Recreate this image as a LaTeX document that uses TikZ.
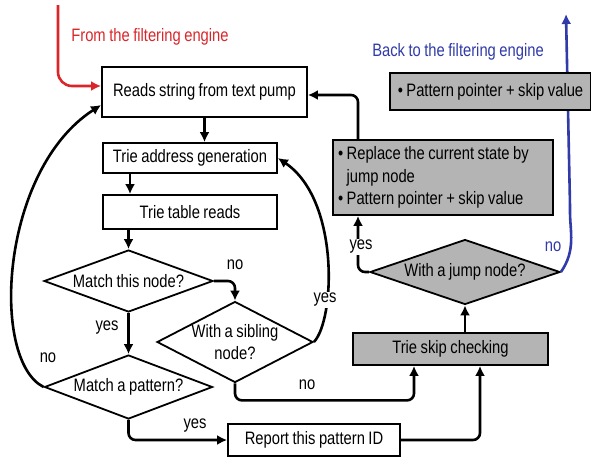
\documentclass[tikz,border=0pt]{standalone}
\usepackage{fontspec}
\setmainfont{Liberation Sans}[FakeStretch=0.82, WordSpace=0.85]
\usetikzlibrary{shapes.geometric}
\usetikzlibrary{arrows.meta}
\definecolor{boxgray}{RGB}{180,180,180}
\definecolor{inred}{RGB}{218,38,42}
\definecolor{outblue}{RGB}{48,58,168}
\tikzset{
 box/.style={draw, line width=1.8pt, fill=white, inner sep=0pt},
 graybox/.style={box, fill=boxgray},
 decide/.style={diamond, draw, line width=1.8pt, fill=white, inner sep=0pt},
 flow/.style={line width=2.6pt, rounded corners=7pt, -{Latex[length=10pt,width=10pt]}},
 tag/.style={inner sep=1pt},
}

\begin{document}
\begin{tikzpicture}[x=1pt, y=-1pt, font=\fontsize{18}{22.5}\selectfont]
    \useasboundingbox (0,0) rectangle (591,458);
    \node[box, minimum width=205pt, minimum height=50pt] (reads) at (204.5,92) {Reads string from text pump};
    \node[box, minimum width=174pt, minimum height=30pt] (addr) at (190,158) {Trie address generation};
    \node[box, minimum width=174pt, minimum height=34pt] (table) at (190,212) {Trie table reads};
    \node[decide, minimum width=169pt, minimum height=62pt, label=center:{Match this node?}] (mnode) at (128.5,281) {};
    \node[decide, minimum width=156pt, minimum height=81pt, label={[align=center]center:{With a sibling\\node?}}] (sib) at (235,342) {};
    \node[decide, minimum width=168pt, minimum height=64pt, label=center:{Match a pattern?}] (mpat) at (128.5,387) {};
    \node[box, minimum width=172pt, minimum height=32pt] (report) at (314,440) {Report this pattern ID};
    \node[graybox, minimum width=195pt, minimum height=32pt] (skip) at (450.5,349) {Trie skip checking};
    \node[decide, fill=boxgray, minimum width=190pt, minimum height=65pt, label=center:{With a jump node?}] (jump) at (465,272) {};
    \node[graybox, inner xsep=5pt, text width=210pt, minimum height=75pt, align=flush left] (replace) at (443,177.5)
        {\textbullet\ Replace the current state by\\\phantom{\textbullet\ }jump node\\\textbullet\ Pattern pointer + skip value};

    \coordinate (instart) at (58,5);
    \coordinate (backtop) at (566,14);
    \draw[flow, inred, rounded corners=14pt] (instart) |- ([yshift=6pt]reads.west);
    \node[inred] at (150,37) {From the filtering engine};
    \draw[flow, outblue] (jump.east) to[out=55, in=-90] (570,205) -- (backtop);
    \node[outblue] at (458,52) {Back to the filtering engine};
    \node[outblue, tag] at (553,247) {no};
    \node[graybox, minimum width=201pt, minimum height=37pt, align=left] (pointer) at (490.5,91.5)
        {\textbullet\ Pattern pointer + skip value};

    \draw[flow] (reads.south) -- (reads.south |- addr.north);
    \draw[flow] ([xshift=-60pt]addr.south) -- ([xshift=-60pt]addr.south |- table.north);
    \draw[flow] (table.south -| mnode.north) -- (mnode.north);
    \draw[flow] (mnode.east) -| (sib.north);
    \node[tag] at (235,265) {no};
    \draw[flow] (mnode.south) -- (mpat.north);
    \node[tag] at (107,328) {yes};
    \draw[flow] (mpat.west) .. controls (-10,360) and (0,170) .. ([yshift=-13pt]reads.west);
    \node[tag] at (48,358) {no};
    \draw[flow] (mpat.south) |- (report.west);
    \node[tag] at (195,426) {yes};
    \draw[flow] (sib.east) .. controls (335,320) and (340,200) .. (addr.east);
    \node[tag, fill=white] at (325,300) {yes};
    \draw[flow] (sib.south) -- ++(0,17) -| ([xshift=-36.5pt]skip.south);
    \node[tag] at (307,385) {no};
    \draw[flow] (report.east) -| ([xshift=29.5pt]skip.south);
    \draw[flow] (skip.north -| jump.south) -- (jump.south);
    \draw[flow] (jump.west) -| ([xshift=-85pt]replace.south);
    \node[tag, fill=white] at (361,247) {yes};
    \draw[flow] ([xshift=-85pt]replace.north) |- ([yshift=-3pt]reads.east);
\end{tikzpicture}
\end{document}
